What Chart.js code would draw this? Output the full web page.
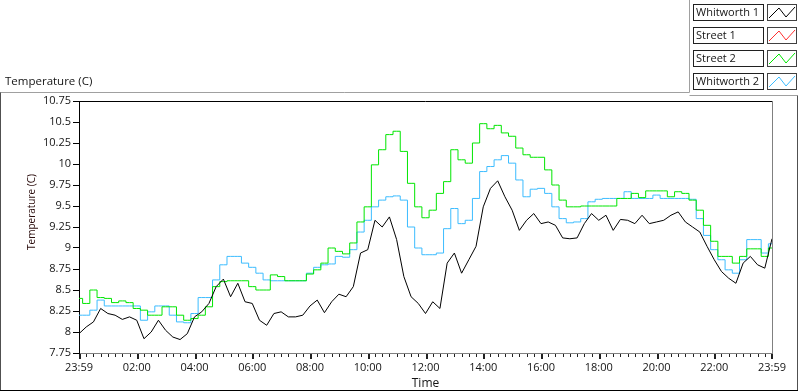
<!DOCTYPE html>
<html>
<head>
<meta charset="utf-8">
<script src="https://cdn.jsdelivr.net/npm/chart.js@4.4.1/dist/chart.umd.min.js"></script>
<style>
  html, body { margin: 0; padding: 0; background: #fff; }
</style>
</head>
<body>
<canvas id="tempChart" width="800" height="392"></canvas>
<script>
// sample times, minutes after 23:59
const sampleMinutes = [
  0, 15, 30, 45, 60, 75, 90, 105, 120, 135,
  150, 165, 180, 195, 210, 225, 240, 255, 270, 285,
  300, 315, 330, 345, 360, 375, 390, 405, 420, 435,
  450, 465, 480, 495, 510, 525, 540, 555, 570, 585,
  600, 615, 630, 645, 660, 675, 690, 705, 720, 735,
  750, 765, 780, 795, 810, 825, 840, 855, 870, 885,
  900, 915, 930, 945, 960, 975, 990, 1005, 1020, 1035,
  1050, 1065, 1080, 1095, 1110, 1125, 1140, 1155, 1170, 1185,
  1200, 1215, 1230, 1245, 1260, 1275, 1290, 1305, 1320, 1335,
  1350, 1365, 1380, 1395, 1410, 1425, 1440
];
const tickLabels = ["23:59", "02:00", "04:00", "06:00", "08:00", "10:00", "12:00",
                    "14:00", "16:00", "18:00", "20:00", "22:00", "23:59"];

const whitworth1 = [
  7.98, 8.06, 8.12, 8.28, 8.22, 8.20, 8.15, 8.18, 8.14, 7.92,
  8.00, 8.14, 8.02, 7.94, 7.91, 7.98, 8.18, 8.24, 8.34, 8.54,
  8.63, 8.42, 8.58, 8.36, 8.34, 8.14, 8.08, 8.22, 8.24, 8.18,
  8.18, 8.20, 8.31, 8.38, 8.23, 8.36, 8.45, 8.42, 8.54, 8.94,
  8.98, 9.33, 9.25, 9.37, 9.10, 8.66, 8.42, 8.34, 8.22, 8.36,
  8.28, 8.82, 8.94, 8.70, 8.86, 9.02, 9.49, 9.71, 9.80, 9.61,
  9.45, 9.21, 9.33, 9.41, 9.29, 9.31, 9.27, 9.12, 9.11, 9.12,
  9.29, 9.41, 9.33, 9.39, 9.21, 9.34, 9.33, 9.29, 9.39, 9.29,
  9.31, 9.33, 9.39, 9.43, 9.31, 9.25, 9.19, 9.02, 8.86, 8.72,
  8.64, 8.58, 8.82, 8.90, 8.80, 8.76, 9.11
];
const street1 = []; // no readings on the graph
const street2 = [
  8.40, 8.34, 8.50, 8.41, 8.40, 8.35, 8.37, 8.35, 8.28, 8.26,
  8.20, 8.20, 8.30, 8.30, 8.20, 8.14, 8.16, 8.20, 8.30, 8.54,
  8.60, 8.61, 8.61, 8.61, 8.54, 8.50, 8.50, 8.68, 8.66, 8.61,
  8.61, 8.61, 8.69, 8.74, 8.82, 9.00, 8.96, 8.93, 9.06, 9.31,
  9.49, 9.99, 10.17, 10.35, 10.39, 10.15, 9.77, 9.49, 9.36, 9.45,
  9.65, 9.79, 10.17, 10.05, 10.01, 10.25, 10.48, 10.42, 10.46, 10.37,
  10.33, 10.19, 10.11, 10.08, 10.08, 9.93, 9.75, 9.57, 9.49, 9.49,
  9.50, 9.50, 9.50, 9.50, 9.50, 9.59, 9.59, 9.65, 9.60, 9.68,
  9.68, 9.68, 9.61, 9.67, 9.65, 9.57, 9.45, 9.27, 9.08, 8.90,
  8.90, 8.82, 8.90, 8.99, 8.99, 8.90, 9.00
];
const whitworth2 = [
  8.20, 8.20, 8.26, 8.38, 8.31, 8.31, 8.31, 8.31, 8.31, 8.14,
  8.24, 8.31, 8.31, 8.20, 8.12, 8.11, 8.22, 8.41, 8.41, 8.62,
  8.80, 8.90, 8.90, 8.82, 8.77, 8.70, 8.62, 8.61, 8.61, 8.61,
  8.61, 8.61, 8.70, 8.77, 8.80, 8.81, 8.90, 8.89, 8.98, 9.19,
  9.33, 9.49, 9.57, 9.61, 9.62, 9.57, 9.25, 9.00, 8.92, 8.92,
  8.94, 9.23, 9.47, 9.29, 9.33, 9.59, 9.91, 9.97, 10.05, 10.10,
  10.01, 9.81, 9.61, 9.70, 9.71, 9.65, 9.49, 9.35, 9.30, 9.31,
  9.35, 9.55, 9.58, 9.59, 9.59, 9.59, 9.67, 9.59, 9.59, 9.59,
  9.63, 9.59, 9.59, 9.59, 9.59, 9.58, 9.35, 9.15, 8.98, 8.86,
  8.74, 8.70, 8.86, 9.10, 9.10, 8.94, 9.05
];

const seriesNames = ["Whitworth 1", "Street 1", "Street 2", "Whitworth 2"];
const seriesColors = ["#000000", "#ff3030", "#00e600", "#3cbcff"];
const seriesValues = [whitworth1, street1, street2, whitworth2];
const seriesStepped = [false, false, "middle", "middle"]; // street/whitworth 2 sensors are coarse

const FONT = "'Open Sans', 'Noto Sans', sans-serif";
const TEXT = "#141414";

function toPoints(values) {
  return values.map((v, i) => ({ x: sampleMinutes[i], y: v }));
}

// frame, titles, minor ticks and the boxed legend, LabVIEW style
const labviewDecor = {
  id: "labviewDecor",
  afterDraw(chart) {
    const ctx = chart.ctx;
    const area = chart.chartArea;
    const xs = chart.scales.x;
    ctx.save();

    // outer frame
    ctx.lineWidth = 1;
    ctx.strokeStyle = "#a0a0a0";
    ctx.beginPath();
    ctx.moveTo(0, 92.5); ctx.lineTo(689.5, 92.5);
    ctx.moveTo(689.5, 0); ctx.lineTo(689.5, 92.5);
    ctx.moveTo(689.5, 95.5); ctx.lineTo(797.5, 95.5);
    ctx.stroke();
    ctx.strokeStyle = "#505050";
    ctx.beginPath();
    ctx.moveTo(0.5, 92.5); ctx.lineTo(0.5, 390.5);
    ctx.moveTo(797.5, 95.5); ctx.lineTo(797.5, 390.5);
    ctx.stroke();
    ctx.strokeStyle = "#000";
    ctx.beginPath();
    ctx.moveTo(0, 390.5); ctx.lineTo(798, 390.5);
    ctx.stroke();

    // plot border top (black) and right (gray)
    ctx.strokeStyle = "#000";
    ctx.beginPath();
    ctx.moveTo(area.left, Math.round(area.top) + 0.5);
    ctx.lineTo(area.right, Math.round(area.top) + 0.5);
    ctx.stroke();
    ctx.strokeStyle = "#808080";
    ctx.beginPath();
    ctx.moveTo(Math.round(area.right) + 0.5, area.top);
    ctx.lineTo(Math.round(area.right) + 0.5, area.bottom);
    ctx.stroke();

    // x ticks: major every 2 h, minor every 15 min
    ctx.fillStyle = "#202020";
    for (let m = 0; m <= 1440; m += 15) {
      const px = Math.round(xs.getPixelForValue(m));
      if (m % 120 === 0) ctx.fillRect(px - (m === 1440 ? 1 : 0), 354, 2, 5);
      else ctx.fillRect(px, 354, 1, 3);
    }

    // texts
    ctx.fillStyle = TEXT;
    ctx.textBaseline = "middle";
    ctx.textAlign = "left";
    ctx.font = "11.5px " + FONT;
    ctx.fillText("Temperature (C)", 5, 82);
    ctx.font = "12px " + FONT;
    ctx.textAlign = "center";
    ctx.fillText("Time", (area.left + area.right) / 2, 384);
    ctx.save();
    ctx.translate(32, 212);
    ctx.rotate(-Math.PI / 2);
    ctx.font = "10px " + FONT;
    ctx.fillStyle = "#2a0c0c";
    ctx.fillText("Temperature (C)", 0, 0);
    ctx.restore();

    // legend
    chart.data.datasets.forEach((ds, i) => {
      const top = 4 + i * 23;
      ctx.fillStyle = "#fff";
      ctx.fillRect(693, top, 70, 16);
      ctx.strokeStyle = "#202020";
      ctx.strokeRect(693.5, top + 0.5, 70, 16);
      ctx.strokeStyle = "#404040";
      ctx.strokeRect(767.5, top + 0.5, 29, 16);
      ctx.fillStyle = TEXT;
      ctx.textAlign = "left";
      ctx.textBaseline = "middle";
      ctx.font = "11px " + FONT;
      ctx.fillText(ds.label, 696, top + 9);
      ctx.strokeStyle = ds.borderColor;
      ctx.beginPath();
      ctx.moveTo(769, top + 14);
      ctx.lineTo(779, top + 4);
      ctx.lineTo(786, top + 13);
      ctx.lineTo(795, top + 3);
      ctx.stroke();
    });
    ctx.restore();
  }
};

new Chart(document.getElementById("tempChart"), {
  type: "line",
  data: {
    datasets: seriesNames.map((name, i) => ({
      label: name,
      data: toPoints(seriesValues[i]),
      borderColor: seriesColors[i],
      backgroundColor: seriesColors[i],
      borderWidth: 1,
      pointRadius: 0,
      tension: 0,
      stepped: seriesStepped[i],
      fill: false
    }))
  },
  options: {
    responsive: false,
    animation: false,
    devicePixelRatio: 1,
    layout: { padding: { top: 101, right: 28, bottom: 0, left: 0 } },
    plugins: {
      legend: { display: false },
      tooltip: { enabled: false }
    },
    scales: {
      x: {
        type: "linear",
        min: 0,
        max: 1440,
        afterFit: (s) => { s.height = 39; },
        grid: { display: false, drawTicks: false },
        border: { display: true, color: "#808080", width: 1 },
        ticks: {
          stepSize: 120,
          autoSkip: false,
          maxRotation: 0,
          padding: 8,
          color: TEXT,
          font: { family: FONT, size: 11 },
          callback: (v, idx) => tickLabels[idx]
        }
      },
      y: {
        min: 7.75,
        max: 10.75,
        afterFit: (s) => { s.width = 79; },
        grid: { drawOnChartArea: false, drawTicks: true, tickLength: 6, color: "#000" },
        border: { display: true, color: "#000", width: 1 },
        ticks: {
          stepSize: 0.25,
          padding: 2,
          color: TEXT,
          font: { family: FONT, size: 11 },
          callback: (v) => String(Math.round(v * 100) / 100)
        }
      }
    }
  },
  plugins: [labviewDecor]
});
</script>
</body>
</html>
